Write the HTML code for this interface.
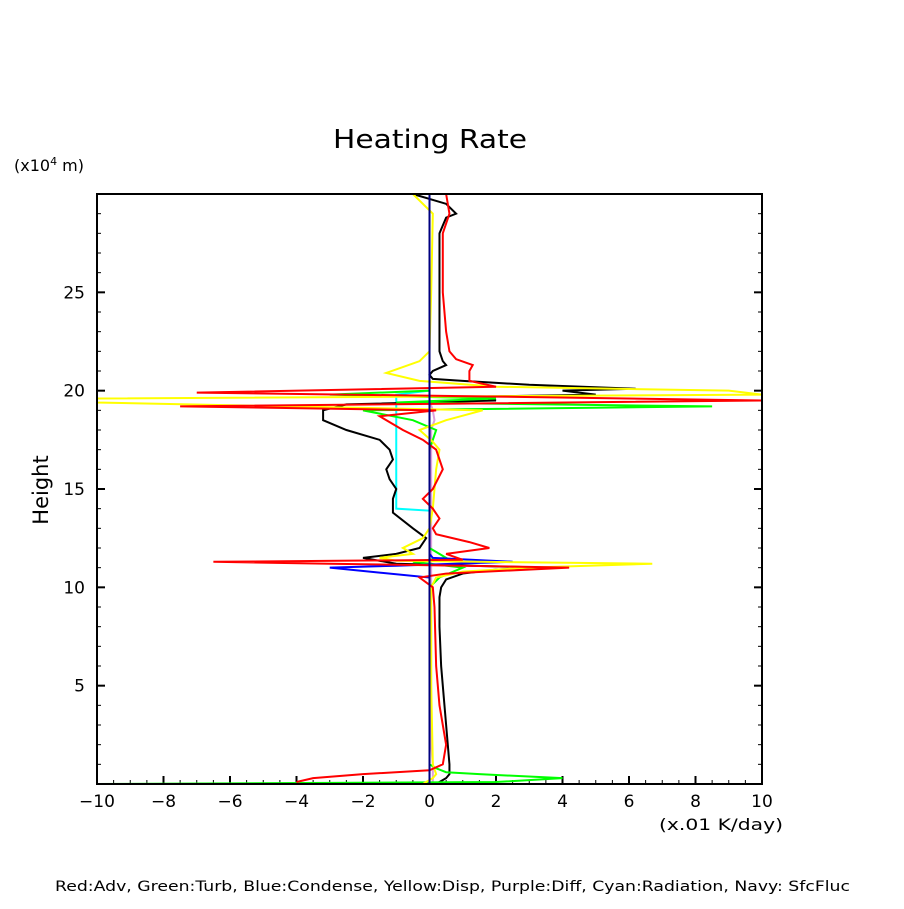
<!DOCTYPE html>
<html><head><meta charset="utf-8"><style>
body{margin:0;background:#fff}
svg text{font-family:"DejaVu Sans","Liberation Sans",sans-serif}
</style></head><body>
<svg id="c" width="904" height="904" viewBox="0 0 904 904">
<rect width="904" height="904" fill="#fff"/>
<text x="333" y="148" font-size="26" textLength="194" lengthAdjust="spacingAndGlyphs">Heating Rate</text>
<text x="14" y="171" font-size="16">(x10<tspan font-size="11" dy="-6">4</tspan><tspan dy="6"> m)</tspan></text>
<text x="48" y="490" font-size="21" text-anchor="middle" transform="rotate(-90 48 490)">Height</text>
<text x="659" y="830" font-size="16" textLength="124" lengthAdjust="spacingAndGlyphs">(x.01 K/day)</text>
<text x="55" y="891" font-size="14" textLength="795" lengthAdjust="spacingAndGlyphs">Red:Adv, Green:Turb, Blue:Condense, Yellow:Disp, Purple:Diff, Cyan:Radiation, Navy: SfcFluc</text>
<g id="ax"></g>
<g id="series"></g>
<rect x="97" y="194" width="665" height="590" fill="none" stroke="#000" stroke-width="2"/>
</svg>
<script>
const xTicks=[-10,-8,-6,-4,-2,0,2,4,6,8,10];
const yTicks=[5,10,15,20,25];
const heightsRed=[0.1,0.3,0.5,0.7,1,2,4,6,9,10,10.5,10.7,11,11.1,11.2,11.3,11.4,11.7,12,12.3,12.7,13,13.5,14,14.5,15,16,17,17.5,18,18.7,19,19.2,19.5,19.7,19.9,20.2,20.5,21,21.3,21.6,22,23,25,28,29,30];
const valuesRed=[-4,-3.5,-2,0,0.4,0.5,0.3,0.2,0.15,0.1,-0.3,0.5,4.2,1,-3,-6.5,1,0.5,1.8,1.2,0.2,0.1,0.3,0.1,-0.2,0.1,0.4,0.2,-0.2,-0.8,-1.5,0.2,-7.5,10,2,-7,2,1.2,1.2,1.3,0.8,0.6,0.5,0.4,0.4,0.6,0.5];
const heightsBlack=[0,0.1,0.3,0.5,1,2,4,6,8,9.5,10,10.4,10.7,10.9,11.0,11.2,11.5,11.7,12,12.5,13,13.8,14.5,15,15.5,16,16.5,17,17.5,18,18.5,19,19.3,19.5,19.7,19.8,20,20.1,20.3,20.5,20.6,20.8,21,21.3,21.5,22,23,25,28,28.8,29,29.5,30];
const valuesBlack=[0.1,0.3,0.5,0.6,0.6,0.55,0.45,0.35,0.3,0.3,0.35,0.5,1,2,3.5,-1,-2,-1,-0.3,-0.1,-0.5,-1.1,-1.1,-1,-1.2,-1.3,-1.1,-1.2,-1.5,-2.5,-3.2,-3.2,-2.5,2,1.5,5,4,6.2,3,1,0.1,0,0.1,0.5,0.4,0.3,0.3,0.3,0.3,0.5,0.8,0.5,-0.5];
const heightsYellow=[0,0.3,0.5,1,5,10,10.5,10.8,11,11.2,11.35,11.5,11.7,12,12.5,13,14,16,17,17.4,18,18.5,19,19.4,19.6,19.8,20,20.2,20.5,20.9,21.5,22,25,29,30];
const valuesYellow=[-0.2,0.1,0.2,0.1,0.05,0.05,0.2,1,3,6.7,-1,-1.5,-0.5,-0.8,-0.2,0,0.1,0.2,0.3,0.1,-0.3,0.5,1.6,-10,-10,10,9,2,-0.3,-1.3,-0.3,0,0.05,0.1,-0.5];
const heightsGreen=[0,0.1,0.3,0.5,0.6,0.8,1,2,10,10.5,11,11.3,11.5,12,17,18,18.5,19,19.2,19.4,19.6,19.8,20,30];
const valuesGreen=[-10,2,4,1.5,0.5,0.2,0,0,0,0.3,1,-0.5,0.5,0,0,0.2,-0.5,-2,8.5,-1,2,-3,0,0];
const heightsBlue=[0,10.5,11,11.1,11.3,11.5,11.7,30];
const valuesBlue=[0,0,-3,-1,2.5,0.1,0,0];
const heightsPurple=[0,1,2,18,18.5,19,19.5,30];
const valuesPurple=[0.1,0.1,0.05,0.05,0.15,0.1,0,0];
const heightsCyan=[0,13.9,14,19.8,20,30];
const valuesCyan=[0,0,-1,-1,0,0];
const heightsNavy=[0,0,30];
const valuesNavy=[8,0,0];

const X=v=>97+(v+10)/20*665;
const Y=h=>784-h/30*590;
const NS="http://www.w3.org/2000/svg";
const ax=document.getElementById('ax');
function mk(t,a,p){const e=document.createElementNS(NS,t);for(const k in a)e.setAttribute(k,a[k]);p.appendChild(e);return e;}
xTicks.forEach(v=>{
 const l=mk('line',{x1:X(v),x2:X(v),y1:784,y2:776,stroke:'#000','stroke-width':2},ax);
 
 
 const t=mk('text',{x:X(v),y:807,'font-size':17,'text-anchor':'middle'},ax);
 t.textContent=(v<0?'\u2212'+(-v):v);
 
 
});
for(let v=-10;v<=10;v+=0.5){mk('line',{x1:X(v),x2:X(v),y1:784,y2:780,stroke:'#000','stroke-width':1},ax);}
for(let h=1;h<30;h++){mk('line',{x1:97,x2:h%5?101:105,y1:Y(h),y2:Y(h),stroke:'#000','stroke-width':h%5?1:2},ax);mk('line',{x1:762,x2:h%5?758:754,y1:Y(h),y2:Y(h),stroke:'#000','stroke-width':h%5?1:2},ax);}
yTicks.forEach(h=>{
 const t=mk('text',{x:85,y:Y(h)+6,'font-size':17,'text-anchor':'end'},ax);
 t.textContent=h;
 
 
});
const sg=document.getElementById('series');
const defs=[['navy',heightsNavy,valuesNavy,'#000080'],['cyan',heightsCyan,valuesCyan,'#00ffff'],['purple',heightsPurple,valuesPurple,'#dda0dd'],['black',heightsBlack,valuesBlack,'#000'],['green',heightsGreen,valuesGreen,'#00ff00'],['blue',heightsBlue,valuesBlue,'#0000ff'],['yellow',heightsYellow,valuesYellow,'#ffff00'],['red',heightsRed,valuesRed,'#ff0000']];
defs.forEach(([n,hs,vs,c])=>{
 const pts=hs.map((h,i)=>Math.max(97,Math.min(762,X(vs[i])))+','+Y(h)).join(' ');
 const p=mk('polyline',{points:pts,fill:'none',stroke:c,'stroke-width':2},sg);
 
 
});
const z=mk('line',{x1:X(0),x2:X(0),y1:194,y2:784,stroke:'#000080','stroke-width':2},sg);


</script>
</body></html>
